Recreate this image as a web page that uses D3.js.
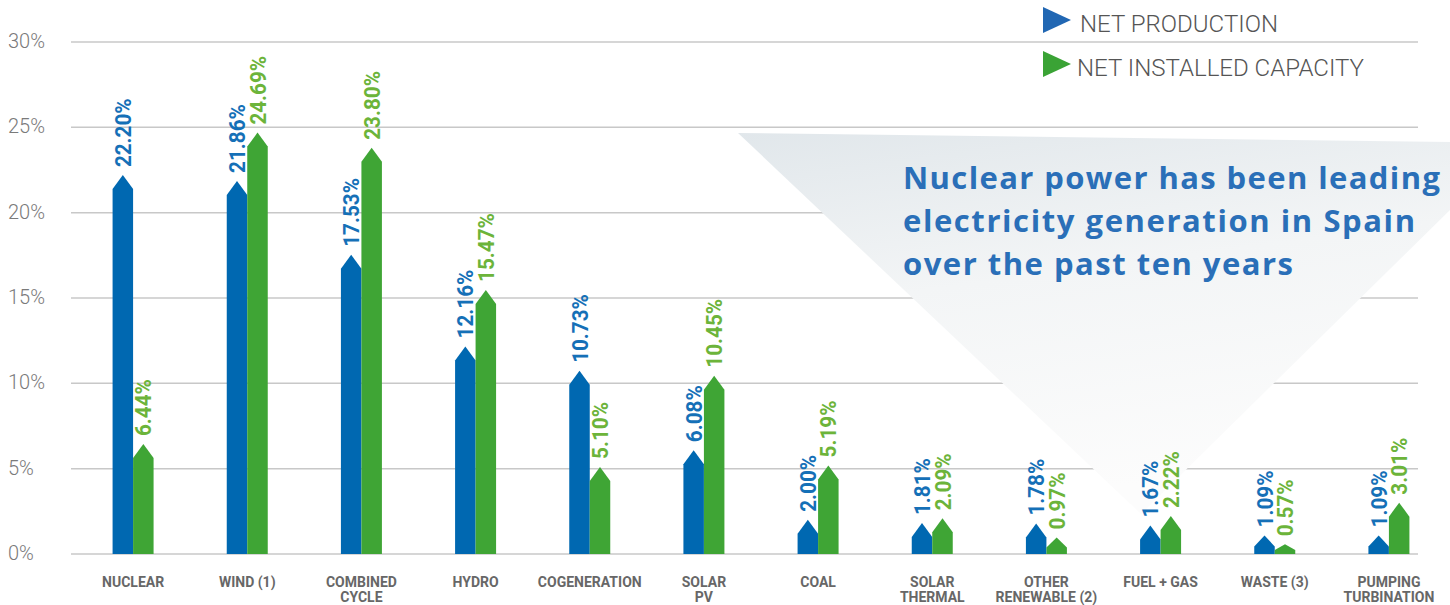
<!DOCTYPE html>
<html>
<head>
<meta charset="utf-8">
<script src="https://cdn.jsdelivr.net/npm/d3@7/dist/d3.min.js"></script>
<style>
  html, body { margin: 0; padding: 0; background: #fff; }
  svg { display: block; }
</style>
</head>
<body>
<div id="chart"></div>
<script>
// data
const categories = ["NUCLEAR", "WIND (1)", "COMBINED\nCYCLE", "HYDRO", "COGENERATION", "SOLAR\nPV",
                    "COAL", "SOLAR\nTHERMAL", "OTHER\nRENEWABLE (2)", "FUEL + GAS", "WASTE (3)", "PUMPING\nTURBINATION"];
const netProduction = [22.20, 21.86, 17.53, 12.16, 10.73, 6.08, 2.00, 1.81, 1.78, 1.67, 1.09, 1.09];
const netCapacity   = [6.44, 24.69, 23.80, 15.47, 5.10, 10.45, 5.19, 2.09, 0.97, 2.22, 0.57, 3.01];
const yTicks = [0, 5, 10, 15, 20, 25, 30];
const seriesNames = ["NET PRODUCTION", "NET INSTALLED CAPACITY"];
const noteLines = ["Nuclear power has been leading", "electricity generation in Spain", "over the past ten years"];

const width = 1450;
const height = 605;
const barColours = ["#0068b1", "#3fa535"];
const textColours = ["#1570b7", "#6cb43a"];

const svg = d3.select("#chart")
              .append("svg")
              .attr("width", width)
              .attr("height", height)
              .attr("viewBox", `0 0 ${width} ${height}`);

const y = d3.scaleLinear().domain([0, 30]).range([554, 42]);
const x0 = d3.scaleBand().domain(categories).range([76, 1446]).padding(0);
const x1 = d3.scaleBand().domain(seriesNames).range([-20.5, 20.5]).padding(0);

// gridlines + y labels
svg.append("g").selectAll("line")
   .data(yTicks)
   .enter()
   .append("line")
   .attr("x1", 71)
   .attr("x2", 1418)
   .attr("y1", d => y(d))
   .attr("y2", d => y(d))
   .attr("stroke", "#c8c8c8")
   .attr("stroke-width", 1.5);

svg.append("g").selectAll("text")
   .data(yTicks)
   .enter()
   .append("text")
   .attr("x", 8)
   .attr("y", d => y(d) + 6)
   .attr("font-family", "Roboto, sans-serif")
   .attr("font-weight", 300)
   .attr("font-size", 20)
   .attr("fill", "#7a7a7a")
   .text(d => d + "%");

// callout shape behind the bars
const defs = svg.append("defs");
const grad = defs.append("linearGradient")
                 .attr("id", "callout")
                 .attr("x1", 0).attr("y1", 0)
                 .attr("x2", 0.25).attr("y2", 1);
grad.append("stop").attr("offset", 0).attr("stop-color", "#e1e7eb");
grad.append("stop").attr("offset", 0.45).attr("stop-color", "#f3f5f6");
grad.append("stop").attr("offset", 1).attr("stop-color", "#fcfcfc");

svg.append("path")
   .attr("d", "M738,133 L1450,142 L1450,210 L1141,514 Z")
   .attr("fill", "url(#callout)");

// bars
const rows = categories.map((c, i) => ({ cat: c, values: [netProduction[i], netCapacity[i]] }));

const groups = svg.selectAll(".group")
                  .data(rows)
                  .enter()
                  .append("g")
                  .attr("class", "group")
                  .attr("transform", d => `translate(${x0(d.cat) + x0.bandwidth() / 2}, 0)`);

const bars = groups.selectAll(".bar")
                   .data(d => d.values.map((v, k) => ({ v: v, k: k, name: seriesNames[k] })))
                   .enter();

function pencil(d){
  const left = x1(d.name);
  const right = left + x1.bandwidth();
  const mid = (left + right) / 2;
  const base = y(0);
  const tip = y(d.v);
  const tri = Math.min(14, (base - tip) * 0.6);
  return `M${left},${base} L${left},${tip + tri} L${mid},${tip} L${right},${tip + tri} L${right},${base} Z`;
}

bars.append("path")
    .attr("class", "bar")
    .attr("d", pencil)
    .attr("fill", d => barColours[d.k]);

bars.append("text")
    .attr("transform", d => `translate(${x1(d.name) + x1.bandwidth() / 2 + 8}, ${y(d.v) - 8}) rotate(-90) scale(0.92, 1)`)
    .attr("font-family", "Roboto, sans-serif")
    .attr("font-weight", 700)
    .attr("font-size", 22.5)
    .attr("fill", d => textColours[d.k])
    .text(d => d3.format(".2f")(d.v) + "%");

// category labels
groups.append("text")
      .attr("text-anchor", "middle")
      .attr("font-family", "Roboto, sans-serif")
      .attr("font-weight", 700)
      .attr("font-size", 14)
      .attr("fill", "#676767")
      .selectAll("tspan")
      .data(d => d.cat.split("\n"))
      .enter()
      .append("tspan")
      .attr("x", 0)
      .attr("y", (d, i) => 587 + i * 14.5)
      .text(d => d);

// legend
const legend = svg.append("g").attr("transform", "translate(1043, 7)");
const legendColours = ["#2167b3", "#3aa335"];
const legendWidths = [198, 287];
seriesNames.forEach((name, i) => {
  const g = legend.append("g").attr("transform", `translate(0, ${i * 44})`);
  g.append("path")
   .attr("d", "M0,0 L28,13 L0,26 Z")
   .attr("fill", legendColours[i]);
  g.append("text")
   .attr("x", i === 0 ? 37 : 34)
   .attr("y", 25)
   .attr("font-family", "Roboto, sans-serif")
   .attr("font-weight", 300)
   .attr("font-size", 23)
   .attr("fill", "#555")
   .attr("textLength", legendWidths[i])
   .attr("lengthAdjust", "spacingAndGlyphs")
   .text(name);
});

// callout text
const noteWidths = [537, 512, 390];
svg.append("g").selectAll("text")
   .data(noteLines)
   .enter()
   .append("text")
   .attr("x", 903)
   .attr("y", (d, i) => 189 + i * 43)
   .attr("font-family", "'Open Sans', sans-serif")
   .attr("font-weight", 700)
   .attr("font-size", 31)
   .attr("fill", "#2a6fb8")
   .attr("textLength", (d, i) => noteWidths[i])
   .attr("lengthAdjust", "spacing")
   .text(d => d);
</script>
</body>
</html>
